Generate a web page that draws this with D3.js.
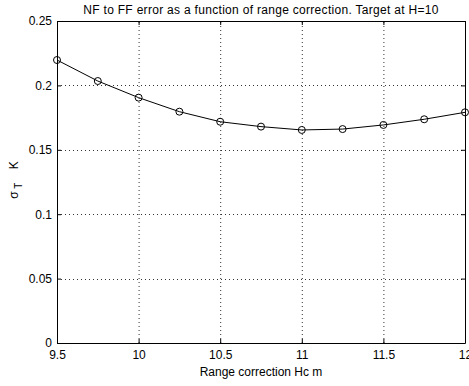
<!DOCTYPE html>
<html>
<head>
<meta charset="utf-8">
<script src="https://cdn.jsdelivr.net/npm/d3@7"></script>
<style>
body { margin: 0; background: #fff; }
text { font-family: "Liberation Sans", Arial, sans-serif; font-size: 12px; fill: #000; }
</style>
</head>
<body>
<div id="viz"></div>
<script>
var width = 469
var height = 386

// data
var rangeCorr = [9.5, 9.75, 10, 10.25, 10.5, 10.75, 11, 11.25, 11.5, 11.75, 12];
var sigmaT = [0.2197, 0.2034, 0.1905, 0.1796, 0.1718, 0.168, 0.1654, 0.1661, 0.1693, 0.1737, 0.1791];
var xTicks = [9.5, 10, 10.5, 11, 11.5, 12];
var yTicks = [0, 0.05, 0.1, 0.15, 0.2, 0.25];

var m = {left: 57, right: 4, top: 21, bottom: 43};

var svg = d3.select("#viz")
    .append("svg")
    .attr("width", width)
    .attr("height", height);

var x = d3.scaleLinear().domain([9.5, 12]).range([m.left, width - m.right]);
var y = d3.scaleLinear().domain([0, 0.25]).range([height - m.bottom, m.top]);

// grid
svg.append("g").selectAll("line")
    .data(xTicks.slice(1, -1))
    .enter().append("line")
    .attr("x1", d => x(d) + 0.5).attr("x2", d => x(d) + 0.5)
    .attr("y1", y(0)).attr("y2", y(0.25))
    .attr("stroke", "#333").attr("stroke-dasharray", "1,3");

svg.append("g").selectAll("line")
    .data(yTicks.slice(1, -1))
    .enter().append("line")
    .attr("y1", d => Math.round(y(d)) + 0.5).attr("y2", d => Math.round(y(d)) + 0.5)
    .attr("x1", x(9.5)).attr("x2", x(12))
    .attr("stroke", "#333").attr("stroke-dasharray", "1,3");

// axes, ticks inward
svg.append("g")
    .attr("transform", "translate(0," + y(0) + ")")
    .call(d3.axisBottom(x).tickValues(xTicks).tickSizeInner(-4).tickSizeOuter(0).tickPadding(7).tickFormat(d3.format("")));
svg.append("g")
    .attr("transform", "translate(" + x(9.5) + ",0)")
    .call(d3.axisLeft(y).tickValues(yTicks).tickSizeInner(-4).tickSizeOuter(0).tickPadding(5).tickFormat(d3.format("")));
svg.append("g")
    .attr("transform", "translate(0," + y(0.25) + ")")
    .call(d3.axisTop(x).tickValues(xTicks).tickSizeInner(-4).tickSizeOuter(0).tickFormat(""));
svg.append("g")
    .attr("transform", "translate(" + x(12) + ",0)")
    .call(d3.axisRight(y).tickValues(yTicks).tickSizeInner(-4).tickSizeOuter(0).tickFormat(""));
svg.selectAll(".domain").attr("stroke", "#000");
svg.selectAll(".tick line").attr("stroke", "#000");
svg.selectAll(".tick text").style("font-size", "12px").style("font-family", "Liberation Sans, Arial, sans-serif");

// curve
var line = d3.line()
    .x(d => x(d[0]))
    .y(d => y(d[1]));

var pts = rangeCorr.map((r, i) => [r, sigmaT[i]]);

svg.append("path")
    .datum(pts)
    .attr("d", line)
    .attr("fill", "none")
    .attr("stroke", "#000")
    .attr("stroke-width", 1);

svg.append("g").selectAll("circle")
    .data(pts)
    .enter().append("circle")
    .attr("cx", d => x(d[0]))
    .attr("cy", d => y(d[1]))
    .attr("r", 3.5)
    .attr("fill", "none")
    .attr("stroke", "#000");

// labels
svg.append("text")
    .attr("x", (x(9.5) + x(12)) / 2)
    .attr("y", 14)
    .attr("text-anchor", "middle")
    .style("letter-spacing", "0.3px")
    .text("NF to FF error as a function of range correction. Target at H=10");

svg.append("text")
    .attr("x", (x(9.5) + x(12)) / 2)
    .attr("y", 376)
    .attr("text-anchor", "middle")
    .text("Range correction Hc m");

var yl = svg.append("text")
    .attr("transform", "translate(18," + (y(0.125) - 2) + ") rotate(-90)")
    .attr("text-anchor", "middle")
    .attr("xml:space", "preserve");
yl.append("tspan").text("σ");
yl.append("tspan").attr("dy", 4).style("font-size", "10px").text(" T");
yl.append("tspan").attr("dy", -4).text("    K");
</script>
</body>
</html>
